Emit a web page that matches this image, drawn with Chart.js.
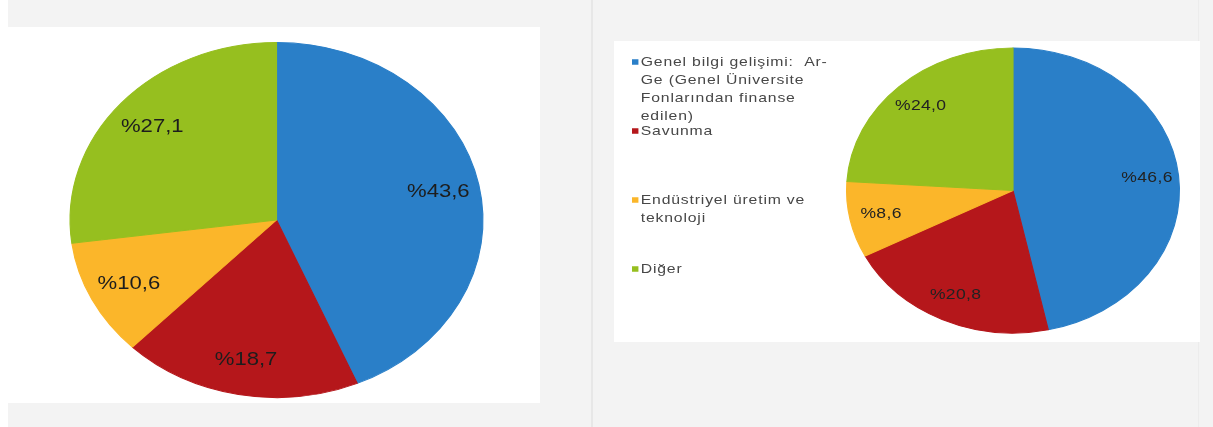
<!DOCTYPE html>
<html lang="tr">
<head>
<meta charset="utf-8">
<title>Ar-Ge harcamaları dağılımı</title>
<script src="https://cdn.jsdelivr.net/npm/chart.js@4.4.1/dist/chart.umd.min.js"></script>
<style>
  html, body { margin: 0; padding: 0; }
  body {
    width: 1213px; height: 427px; position: relative; overflow: hidden;
    background: #f3f3f3;
    font-family: "Liberation Sans", Arial, sans-serif;
  }
  .strip { position: absolute; left: 0; top: 0; width: 8px; height: 427px; background: #ffffff; }
  .divider { position: absolute; left: 591px; top: 0; width: 2px; height: 427px; background: #e7e7e7; }
  .edge { position: absolute; left: 1198px; top: 0; width: 1px; height: 427px; background: #ececec; }
  .panel { position: absolute; background: #ffffff; }
  #leftPanel { left: 0; top: 27px; width: 540px; height: 376px; }
  #rightPanel { left: 614px; top: 41px; width: 586px; height: 301px; }
  canvas { position: absolute; left: 0; top: 0; }
</style>
</head>
<body>
<div class="strip"></div>
<div class="divider"></div>
<div class="edge"></div>
<div class="panel" id="leftPanel"><canvas id="leftChart" width="540" height="376"></canvas></div>
<div class="panel" id="rightPanel"><canvas id="rightChart" width="586" height="301"></canvas></div>

<script>
// Funding categories and their shares (percent)
const categories = [
  'Genel bilgi gelişimi: Ar-Ge (Genel Üniversite Fonlarından finanse edilen)',
  'Savunma',
  'Endüstriyel üretim ve teknoloji',
  'Diğer'
];
// Legend text broken into the lines shown next to the right pie
const legendLines = [
  ['Genel bilgi gelişimi:  Ar-', 'Ge (Genel Üniversite', 'Fonlarından finanse', 'edilen)'],
  ['Savunma'],
  ['Endüstriyel üretim ve', 'teknoloji'],
  ['Diğer']
];
const leftShares = [43.6, 18.7, 10.6, 27.1];
const rightShares = [46.6, 20.8, 8.6, 24.0];
const sliceColors = ['#2a7fc8', '#b5171b', '#fbb62a', '#96bf1f'];

const fmtShare = v => '%' + v.toFixed(1).replace('.', ',');

// Stretches the pie horizontally into an ellipse and writes the share labels
const ellipsePlugin = {
  id: 'ellipse',
  beforeDatasetsDraw(chart, args, opts) {
    const arc = chart.getDatasetMeta(0).data[0];
    const ctx = chart.ctx;
    ctx.save();
    ctx.translate(arc.x, arc.y);
    ctx.scale(opts.sx, 1);
    ctx.translate(-arc.x, -arc.y);
  },
  afterDatasetsDraw(chart, args, opts) {
    const ctx = chart.ctx;
    const meta = chart.getDatasetMeta(0);
    const values = chart.data.datasets[0].data;
    ctx.font = opts.font;
    ctx.fillStyle = opts.color;
    ctx.textAlign = 'center';
    ctx.textBaseline = 'middle';
    if ('letterSpacing' in ctx) ctx.letterSpacing = opts.letterSpacing || '0px';
    meta.data.forEach((arc, i) => {
      const mid = (arc.startAngle + arc.endAngle) / 2;
      const r = arc.outerRadius * opts.labelRadius;
      ctx.fillText(fmtShare(values[i]), arc.x + Math.cos(mid) * r, arc.y + Math.sin(mid) * r);
    });
    ctx.restore();
  }
};

// Legend drawn as a column on the left side of the right-hand chart
const sideLegendPlugin = {
  id: 'sideLegend',
  afterDraw(chart, args, opts) {
    if (!opts.lines) return;
    const ctx = chart.ctx;
    const colors = chart.data.datasets[0].backgroundColor;
    ctx.save();
    ctx.translate(opts.x, 0);
    ctx.scale(opts.sx, 1);
    ctx.font = opts.font;
    ctx.fillStyle = opts.color;
    ctx.textAlign = 'left';
    ctx.textBaseline = 'middle';
    if ('letterSpacing' in ctx) ctx.letterSpacing = opts.letterSpacing;
    opts.lines.forEach((lines, i) => {
      const y0 = opts.top + i * opts.step;
      ctx.fillStyle = colors[i];
      ctx.fillRect(0, y0 - opts.box / 2, opts.box, opts.box);
      ctx.fillStyle = opts.color;
      lines.forEach((line, j) => {
        ctx.fillText(line, opts.textOffset, y0 + j * opts.lineHeight);
      });
    });
    ctx.restore();
  }
};

function pieConfig(values, padding, ellipseOpts, legendOpts) {
  return {
    type: 'pie',
    data: {
      labels: categories,
      datasets: [{
        data: values,
        backgroundColor: sliceColors,
        borderColor: sliceColors,
        borderWidth: 1
      }]
    },
    options: {
      responsive: false,
      animation: false,
      devicePixelRatio: 1,
      rotation: 0,
      layout: { padding },
      events: [],
      plugins: {
        legend: { display: false },
        tooltip: { enabled: false },
        ellipse: ellipseOpts,
        sideLegend: legendOpts
      }
    },
    plugins: [ellipsePlugin, sideLegendPlugin]
  };
}

new Chart(document.getElementById('leftChart'), pieConfig(
  leftShares,
  { top: 14.5, bottom: 4.5, left: 98.5, right: 85.5 },
  { sx: 1.163, labelRadius: 0.8, font: '19px "Liberation Sans", Arial, sans-serif', color: '#1d1d1d' },
  {}
));

new Chart(document.getElementById('rightChart'), pieConfig(
  rightShares,
  { top: 6, bottom: 8, left: 256, right: 44 },
  { sx: 1.168, labelRadius: 0.81, font: '15px "Liberation Sans", Arial, sans-serif', color: '#222222', letterSpacing: '0.3px' },
  {
    lines: legendLines, x: 18, sx: 1.168, top: 21, step: 69, lineHeight: 18,
    box: 5.5, textOffset: 7.5,
    font: '13.5px "Liberation Sans", Arial, sans-serif', color: '#474747', letterSpacing: '0.7px'
  }
));
</script>
</body>
</html>
